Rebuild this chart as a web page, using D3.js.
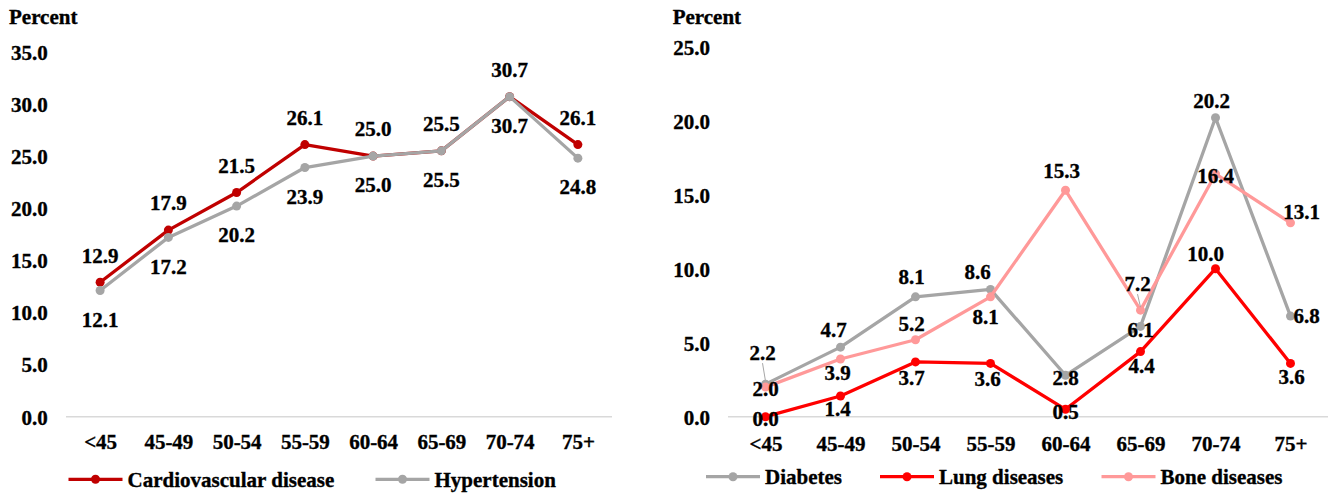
<!DOCTYPE html>
<html>
<head>
<meta charset="utf-8">
<script src="https://cdn.jsdelivr.net/npm/d3@7/dist/d3.min.js"></script>
<style>
  html, body { margin: 0; padding: 0; background: #fff; }
</style>
</head>
<body>
<svg id="chart" width="1338" height="493"></svg>
<script>
// ---------- DATA ----------
const ageGroups = ["<45", "45-49", "50-54", "55-59", "60-64", "65-69", "70-74", "75+"];
const leftTicks = [0, 5, 10, 15, 20, 25, 30, 35];
const rightTicks = [0, 5, 10, 15, 20, 25];

const cardiovascular = [12.9, 17.9, 21.5, 26.1, 25.0, 25.5, 30.7, 26.1];
const hypertension   = [12.1, 17.2, 20.2, 23.9, 25.0, 25.5, 30.7, 24.8];

const diabetes     = [2.2, 4.7, 8.1, 8.6, 2.8, 6.1, 20.2, 6.8];
const lungDiseases = [0.0, 1.4, 3.7, 3.6, 0.5, 4.4, 10.0, 3.6];
const boneDiseases = [2.0, 3.9, 5.2, 8.1, 15.3, 7.2, 16.4, 13.1];

// ---------- LABEL PLACEMENT (layout only) ----------
const cvOff  = ageGroups.map(() => [0, -27]);
const htOff  = ageGroups.map(() => [0, 29]);
const diaOff = [[-3, -31], [-7, -17], [-4, -20], [-13, -17.5], [0, 2], [0, 3], [-4, -17], [16, 0]];
const lungOff = [[0, 2], [-3, 12.5], [-4, 16], [-3, 15], [0, 2.4], [1, 14], [-10, -15], [1, 13.5]];
const boneOff = [[0, 1.3], [-3, 14], [-4, -15.6], [-5, 20], [-4, -20], [-3, -26], [0, 1.5], [11, -11]];

const FONT = "'Liberation Serif', 'Times New Roman', Times, 'DejaVu Serif', serif";
const svg = d3.select("#chart");

function styleText(sel) {
  return sel.style("font-family", FONT).style("font-weight", "bold").style("font-size", "21px")
    .style("fill", "#000").style("stroke", "#000").style("stroke-width", "0.35px");
}

function panel(cfg) {
  const g = svg.append("g");
  const x = d3.scalePoint().domain(ageGroups).range([cfg.x0, cfg.x1]).padding(0.5);
  const y = d3.scaleLinear().domain([0, cfg.max]).range([416.7, cfg.yTop]);

  g.append("text").attr("x", cfg.titleX).attr("y", 16.7).attr("dy", "0.35em").text("Percent").call(styleText);

  const ya = g.append("g").attr("transform", `translate(${cfg.yLabelX},0)`)
    .call(d3.axisLeft(y).tickValues(cfg.ticks).tickSize(0).tickPadding(0).tickFormat(d3.format(".1f")));
  ya.select(".domain").remove();
  ya.selectAll("text").attr("dy", "0.35em").attr("x", 0).call(styleText);

  g.append("line").attr("x1", cfg.x0).attr("x2", cfg.x1)
    .attr("y1", y(0)).attr("y2", y(0)).attr("stroke", "#D9D9D9").attr("stroke-width", 1.5);

  const xa = g.append("g").attr("transform", `translate(0,${cfg.xLabelY})`)
    .call(d3.axisBottom(x).tickSize(0).tickPadding(0));
  xa.select(".domain").remove();
  xa.selectAll("text").attr("dy", "0.35em").attr("y", 0).call(styleText);

  const line = d3.line().x((d, i) => x(ageGroups[i])).y(d => y(d));

  cfg.series.forEach(s => {
    g.append("path").datum(s.values).attr("d", line)
      .attr("fill", "none").attr("stroke", s.color).attr("stroke-width", 3.3)
      .attr("stroke-linejoin", "round");
    g.selectAll(null).data(s.values).enter().append("circle")
      .attr("cx", (d, i) => x(ageGroups[i])).attr("cy", d => y(d))
      .attr("r", 4.5).attr("fill", s.color);
  });

  (cfg.leaders || []).forEach(l => {
    const px = x(ageGroups[l.i]), py = y(l.series[l.i]);
    const o = l.off[l.i];
    g.append("line")
      .attr("x1", px + o[0]).attr("y1", py + o[1] + 10)
      .attr("x2", px).attr("y2", py - 3)
      .attr("stroke", "#A6A6A6").attr("stroke-width", 1);
  });

  cfg.series.forEach(s => {
    g.selectAll(null).data(s.values).enter().append("text")
      .attr("x", (d, i) => x(ageGroups[i]) + s.off[i][0])
      .attr("y", (d, i) => y(d) + s.off[i][1])
      .attr("dy", "0.35em").attr("text-anchor", "middle")
      .text(d => d3.format(".1f")(d)).call(styleText);
  });

  cfg.legend.forEach(l => {
    const lg = g.append("g");
    lg.append("line").attr("x1", l.x).attr("x2", l.x + 54).attr("y1", cfg.legendY).attr("y2", cfg.legendY)
      .attr("stroke", l.color).attr("stroke-width", 3.3);
    lg.append("circle").attr("cx", l.x + 27).attr("cy", cfg.legendY).attr("r", 4.5).attr("fill", l.color);
    lg.append("text").attr("x", l.x + 59).attr("y", cfg.legendY).attr("dy", "0.35em").text(l.name).call(styleText);
  });
}

panel({
  x0: 66, x1: 612, max: 35, yTop: 51.8, ticks: leftTicks,
  titleX: 9, yLabelX: 47.7, xLabelY: 441.7, legendY: 479.3,
  series: [
    { values: cardiovascular, color: "#C00000", off: cvOff },
    { values: hypertension, color: "#A5A5A5", off: htOff }
  ],
  legend: [
    { name: "Cardiovascular disease", color: "#C00000", x: 68.5 },
    { name: "Hypertension", color: "#A5A5A5", x: 375.5 }
  ]
});

panel({
  x0: 728, x1: 1328, max: 25, yTop: 46.7, ticks: rightTicks,
  titleX: 672.7, yLabelX: 710, xLabelY: 443.3, legendY: 476.7,
  series: [
    { values: diabetes, color: "#A5A5A5", off: diaOff },
    { values: lungDiseases, color: "#FF0000", off: lungOff },
    { values: boneDiseases, color: "#FF9999", off: boneOff }
  ],
  leaders: [
    { i: 0, series: diabetes, off: diaOff },
    { i: 5, series: boneDiseases, off: boneOff }
  ],
  legend: [
    { name: "Diabetes", color: "#A5A5A5", x: 706 },
    { name: "Lung diseases", color: "#FF0000", x: 880 },
    { name: "Bone diseases", color: "#FF9999", x: 1101.5 }
  ]
});
</script>
</body>
</html>
